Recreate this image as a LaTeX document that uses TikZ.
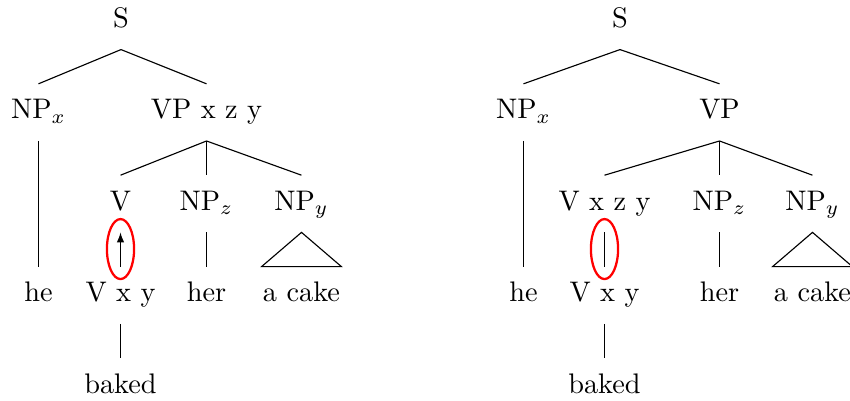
\documentclass[tikz,border=0pt]{standalone}
\usetikzlibrary{shapes.geometric,arrows.meta}
\begin{document}
\begin{tikzpicture}[x=0.35336pt,y=-0.35336pt,
  lbl/.style={anchor=base,inner sep=0pt},
  edge/.style={line width=0.4pt},
  ring/.style={draw=red,line width=0.8pt,ellipse,inner sep=0pt,minimum width=9.6pt,minimum height=21.2pt}]
\def\dn{7.8pt}
\def\up{12.4pt}
\useasboundingbox (0,0) rectangle (850,401);
\clip (0,0) rectangle (850,401);
% ---------- left tree ----------
\node[lbl] (S1) at (121,27.5) {S};
\node[lbl] (NPx1) at (38.5,118.9) {NP$_x$};
\node[lbl] (VP1) at (206.5,118.9) {VP x z y};
\node[lbl] (V1) at (120.5,210.3) {V};
\node[lbl] (NPz1) at (206.5,210.3) {NP$_z$};
\node[lbl] (NPy1) at (301.5,210.3) {NP$_y$};
\node[lbl] (he1) at (38.5,301.7) {he};
\node[lbl] (Vxy1) at (120.5,301.7) {V x y};
\node[lbl] (her1) at (206.5,301.7) {her};
\node[lbl] (cake1) at (301.5,301.7) {a cake};
\node[lbl] (baked1) at (120.5,393.1) {baked};
\draw[edge] ([yshift=-\dn]S1.base) -- ([yshift=\up]NPx1.base);
\draw[edge] ([yshift=-\dn]S1.base) -- ([yshift=\up]VP1.base);
\draw[edge] ([yshift=-\dn]VP1.base) -- ([yshift=\up]V1.base);
\draw[edge] ([yshift=-\dn]VP1.base) -- ([yshift=\up]NPz1.base);
\draw[edge] ([yshift=-\dn]VP1.base) -- ([yshift=\up]NPy1.base);
\draw[edge] ([yshift=-\dn]NPx1.base) -- ([yshift=\up]he1.base);
\draw[edge] ([yshift=-\dn]NPz1.base) -- ([yshift=\up]her1.base);
\draw[edge] ([yshift=-\dn]NPy1.base) -- ([xshift=-14.1pt,yshift=\up]cake1.base) -- ([xshift=14.1pt,yshift=\up]cake1.base) -- cycle;
\draw[edge,-{Latex[length=3.5pt,width=2.6pt]}] ([yshift=\up]Vxy1.base) -- ([yshift=-\dn]V1.base);
\node[ring] (E1) at ([yshift=18.6pt]Vxy1.base) {};
\draw[edge] ([yshift=-\dn]Vxy1.base) -- ([yshift=\up]baked1.base);
% ---------- right tree ----------
\node[lbl] (S2) at (620,27.5) {S};
\node[lbl] (NPx2) at (523.5,118.9) {NP$_x$};
\node[lbl] (VP2) at (719.5,118.9) {VP};
\node[lbl] (V2) at (604.5,210.3) {V x z y};
\node[lbl] (NPz2) at (719.5,210.3) {NP$_z$};
\node[lbl] (NPy2) at (812.5,210.3) {NP$_y$};
\node[lbl] (he2) at (523.5,301.7) {he};
\node[lbl] (Vxy2) at (604.5,301.7) {V x y};
\node[lbl] (her2) at (719.5,301.7) {her};
\node[lbl] (cake2) at (812.5,301.7) {a cake};
\node[lbl] (baked2) at (604.5,393.1) {baked};
\draw[edge] ([yshift=-\dn]S2.base) -- ([yshift=\up]NPx2.base);
\draw[edge] ([yshift=-\dn]S2.base) -- ([yshift=\up]VP2.base);
\draw[edge] ([yshift=-\dn]VP2.base) -- ([yshift=\up]V2.base);
\draw[edge] ([yshift=-\dn]VP2.base) -- ([yshift=\up]NPz2.base);
\draw[edge] ([yshift=-\dn]VP2.base) -- ([yshift=\up]NPy2.base);
\draw[edge] ([yshift=-\dn]NPx2.base) -- ([yshift=\up]he2.base);
\draw[edge] ([yshift=-\dn]NPz2.base) -- ([yshift=\up]her2.base);
\draw[edge] ([yshift=-\dn]NPy2.base) -- ([xshift=-14.1pt,yshift=\up]cake2.base) -- ([xshift=14.1pt,yshift=\up]cake2.base) -- cycle;
\draw[edge] ([yshift=\up]Vxy2.base) -- ([yshift=-\dn]V2.base);
\node[ring] (E2) at ([yshift=18.6pt]Vxy2.base) {};
\draw[edge] ([yshift=-\dn]Vxy2.base) -- ([yshift=\up]baked2.base);
\end{tikzpicture}
\end{document}
